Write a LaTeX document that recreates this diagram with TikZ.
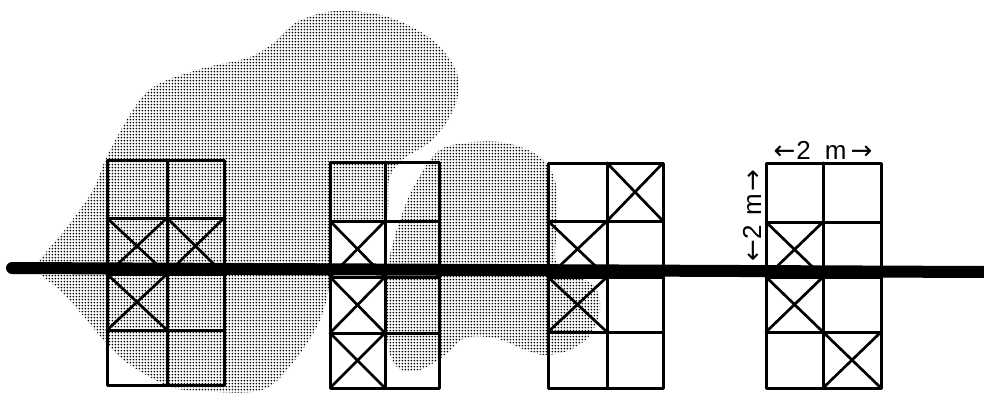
\documentclass[tikz,border=0pt]{standalone}
\usepackage{fontspec}
\setmainfont{Liberation Sans}
\newfontfamily\arrowfont{DejaVu Sans}
\usetikzlibrary{patterns.meta}
\tikzdeclarepattern{
  name=stipple, type=uncolored,
  bounding box={(0pt,0pt) and (3.3pt,3.3pt)},
  tile size={(3.3pt,3.3pt)},
  code={\pgfpathcircle{\pgfpoint{1.65pt}{1.65pt}}{1.15pt}\pgfusepath{fill}}
}
\tikzset{
  blob/.style={pattern={stipple}, pattern color=black},
  gridline/.style={line width=3pt, line join=round, line cap=round},
  crossline/.style={line width=2.7pt, line cap=round},
  bar/.style={line width=12pt, line cap=round},
  dimlabel/.style={font=\fontsize{26}{26}\selectfont, inner sep=0pt}
}
\begin{document}
\begin{tikzpicture}[x=1pt, y=-1pt]
\useasboundingbox (0,0) rectangle (984,393);
% stippled cloud
\fill[blob] plot[smooth cycle, tension=0.55] coordinates {
  (37,265) (67,227) (93,190) (110,150) (147,92) (197,70) (247,58) (272,44)
  (297,22) (335,11) (385,16) (430,38) (455,68) (458,95) (448,120) (430,142)
  (402,160) (389,180) (387,215) (370,221) (333,224) (330,280) (320,320)
  (295,360) (262,390) (200,391) (168,386) (130,365) (108,345) (85,318)
  (62,292) (45,278)};
\fill[blob] plot[smooth cycle, tension=0.55] coordinates {
  (437,152) (465,143) (500,142) (528,150) (546,163) (556,185) (557,225)
  (556,262) (575,275) (595,287) (600,310) (590,335) (570,350) (545,355)
  (525,350) (495,338) (465,338) (445,355) (420,370) (398,368) (388,345)
  (387,290) (390,255) (400,220) (413,188)};
% grid 1
\draw[gridline] (107,160) rectangle (224,385);
\draw[gridline] (167,160) -- (167,385);
\foreach \yy in {218,274,330} \draw[gridline] (107,\yy) -- (224,\yy);
\draw[crossline] (107,218) -- (167,274) (107,274) -- (167,218);
\draw[crossline] (167,218) -- (224,274) (167,274) -- (224,218);
\draw[crossline] (107,274) -- (167,330) (107,330) -- (167,274);
% grid 2
\fill[white] (331,222) rectangle (384,387);
\draw[gridline] (330,162) rectangle (439,388);
\draw[gridline] (385,162) -- (385,388);
\foreach \yy in {221,277,333} \draw[gridline] (330,\yy) -- (439,\yy);
\draw[crossline] (330,221) -- (385,277) (330,277) -- (385,221);
\draw[crossline] (330,277) -- (385,333) (330,333) -- (385,277);
\draw[crossline] (330,333) -- (385,388) (330,388) -- (385,333);
% grid 3
\draw[gridline] (548,163) rectangle (663,388);
\draw[gridline] (607,163) -- (607,388);
\foreach \yy in {221,277,332} \draw[gridline] (548,\yy) -- (663,\yy);
\draw[crossline] (607,163) -- (663,221) (607,221) -- (663,163);
\draw[crossline] (548,221) -- (607,277) (548,277) -- (607,221);
\draw[crossline] (548,277) -- (607,332) (548,332) -- (607,277);
% grid 4
\draw[gridline] (766,163) rectangle (881,388);
\draw[gridline] (823,163) -- (823,388);
\foreach \yy in {222,277,332} \draw[gridline] (766,\yy) -- (881,\yy);
\draw[crossline] (766,222) -- (823,277) (766,277) -- (823,222);
\draw[crossline] (766,277) -- (823,332) (766,332) -- (823,277);
\draw[crossline] (823,332) -- (881,388) (823,388) -- (881,332);
% thick line
\coordinate (barL) at (12,268);
\coordinate (barR) at (984,272);
\draw[bar] (barL) -- (barR);
% dimension labels
\node[dimlabel] (hdim) at (823,150) {{\arrowfont ←}\hspace{1pt}2\hspace{14pt}m\hspace{4pt}{\arrowfont →}};
\node[dimlabel, rotate=90] (vdim) at (752,216) {{\arrowfont ←}\hspace{1pt}2\hspace{9pt}m\hspace{2pt}{\arrowfont →}};
\end{tikzpicture}
\end{document}
